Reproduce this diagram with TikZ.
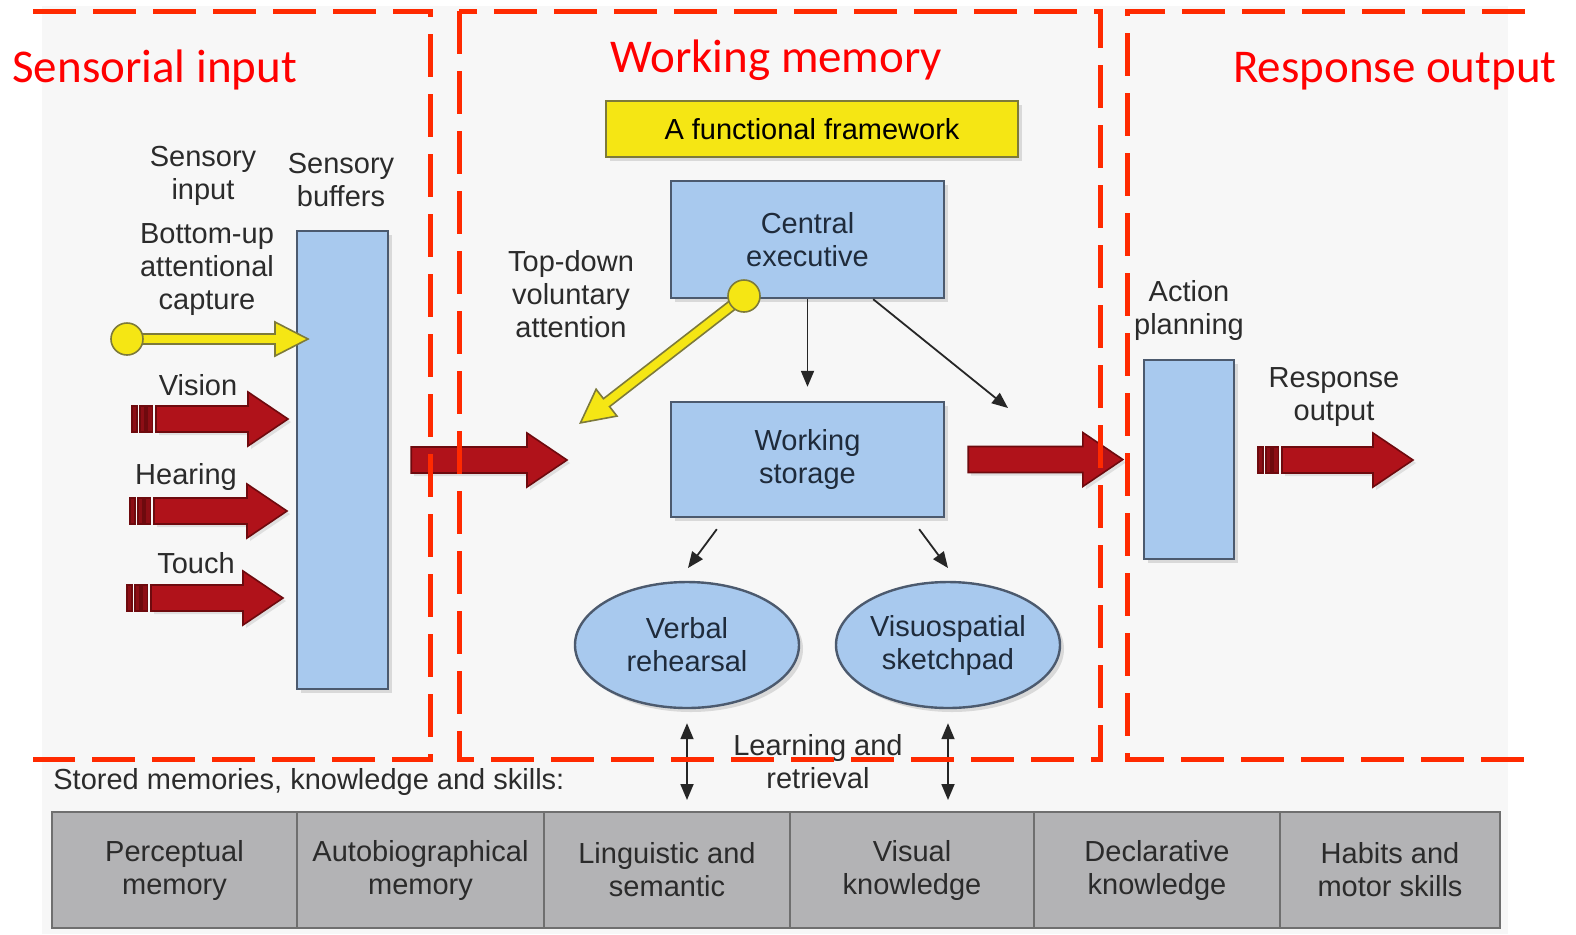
\documentclass[tikz,border=0pt]{standalone}
\usepackage{fontspec}
\setmainfont{Liberation Sans}
\newfontfamily\titlefont{Carlito}
\usetikzlibrary{arrows.meta,shapes.geometric,shadows}

\definecolor{dashred}{HTML}{FF2A00}
\definecolor{titlered}{HTML}{FF0000}
\definecolor{boxblue}{HTML}{A8C9EE}
\definecolor{boxline}{HTML}{4C5A6E}
\definecolor{fwyellow}{HTML}{F5E614}
\definecolor{fwline}{HTML}{7D7A3A}
\definecolor{arrred}{HTML}{B0121A}
\definecolor{arrdark}{HTML}{6E0A0E}
\definecolor{cellgray}{HTML}{B3B3B5}
\definecolor{cellline}{HTML}{6F6F6F}
\definecolor{panel}{HTML}{F7F7F7}
\definecolor{inktext}{HTML}{2B2B2B}
\definecolor{boxtext}{HTML}{1F2B3B}

\tikzset{
  txt/.style={font=\fontsize{14.5}{16.5}\selectfont, text=inktext, align=center, inner sep=0pt},
  bluebox/.style={txt, text=boxtext, draw=boxline, line width=1.2pt, fill=boxblue,
    drop shadow={shadow xshift=2pt, shadow yshift=-2pt, opacity=0.25}},
  blueell/.style={bluebox, ellipse, minimum width=112pt, minimum height=63pt},
  fwbox/.style={txt, text=black, draw=fwline, line width=1.2pt, fill=fwyellow,
    drop shadow={shadow xshift=2pt, shadow yshift=-2pt, opacity=0.25}},
  cell/.style={txt, draw=cellline, fill=cellgray, line width=1pt, minimum height=58pt},
  thinarrow/.style={draw=black!85, line width=0.9pt, -{Triangle[length=8pt,width=6.5pt]}},
  dblarrow/.style={draw=black!85, line width=0.9pt, {Triangle[length=8pt,width=6.5pt]}-{Triangle[length=8pt,width=6.5pt]}},
  fatarr/.style={fill=arrred, draw=arrdark, line width=0.8pt,
    drop shadow={shadow xshift=1.5pt, shadow yshift=-1.5pt, opacity=0.2}},
  barpart/.style={fill=arrred!80!black, draw=arrdark, line width=0.6pt},
  yarr/.style={fill=fwyellow, draw=fwline, line width=0.8pt},
  ydot/.style={circle, yarr, minimum size=16pt, inner sep=0pt},
  redbox/.style={draw=dashred, line width=2.5pt, dash pattern=on 21.5pt off 8.5pt},
  title/.style={font=\titlefont\fontsize{23.5}{28}\selectfont, text=titlered, inner sep=0pt}
}

% fat red arrow between two points on one level
\newcommand{\fatarrow}[2]{%
  \filldraw[fatarr] ([yshift=6.5pt]#1) -- ([xshift=-20pt,yshift=6.5pt]#2) -- ([xshift=-20pt,yshift=13.5pt]#2)
    -- (#2) -- ([xshift=-20pt,yshift=-13.5pt]#2) -- ([xshift=-20pt,yshift=-6.5pt]#2) -- ([yshift=-6.5pt]#1) -- cycle;}
% the bars in front of an input arrow
\newcommand{\stripes}[1]{%
  \filldraw[barpart] ([xshift=-12pt,yshift=-6.5pt]#1) rectangle ([xshift=-9.5pt,yshift=6.5pt]#1);
  \filldraw[barpart] ([xshift=-8pt,yshift=-6.5pt]#1) rectangle ([xshift=-5.5pt,yshift=6.5pt]#1);
  \filldraw[barpart] ([xshift=-4.5pt,yshift=-6.5pt]#1) rectangle ([xshift=-1.8pt,yshift=6.5pt]#1);}
% yellow attention arrow: start, angle, length
\newcommand{\yellowarrow}[4]{%
  \begin{scope}[shift={(#1)},rotate=#2]
    \filldraw[yarr] (10,-5) -- ({#3-33},-5) -- ({#3-33},-17) -- (#3,0) -- ({#3-33},17) -- ({#3-33},5) -- (10,5) -- cycle;
  \end{scope}
  \node[ydot] (#4) at (#1) {};}

\begin{document}
\begin{tikzpicture}[x=0.5pt,y=-0.5pt]
\useasboundingbox (0,0) rectangle (1576,934);
\fill[panel] (42,6) rectangle (1508,934);

% sensory side
\node[txt] (sensin) at (203,176) {Sensory\\input};
\node[txt] (sensbuf) at (341,180) {Sensory\\buffers};
\node[txt] (bottomup) at (207,270) {Bottom-up\\attentional\\capture};
\node[bluebox, minimum width=45.5pt, minimum height=229pt] (buffers) at (342.5,460) {};
\coordinate (bucap) at (127,339);
\yellowarrow{bucap}{0}{181}{budot}
\node[txt] (vision) at (198,385) {Vision};
\coordinate (vis0) at (156,419);
\coordinate (vis1) at (288,419);
\stripes{vis0}
\fatarrow{vis0}{vis1}
\node[txt] (hearing) at (186,477) {Hearing};
\coordinate (hear0) at (154,511);
\coordinate (hear1) at (287,511);
\stripes{hear0}
\fatarrow{hear0}{hear1}
\node[txt] (touch) at (196,563) {Touch};
\coordinate (touch0) at (151,598);
\coordinate (touch1) at (283,598);
\stripes{touch0}
\fatarrow{touch0}{touch1}
\coordinate (bufout) at ([xshift=11pt]buffers.east);
\coordinate (wmin) at (567,460);
\fatarrow{bufout}{wmin}

% working memory
\node[fwbox, minimum width=206pt, minimum height=28pt] (frame) at (812,129) {A functional framework};
\node[bluebox, minimum width=136.5pt, minimum height=58.5pt] (centexec) at (807.5,239.5) {Central\\executive};
\node[bluebox, minimum width=136.5pt, minimum height=57.5pt] (wstore) at (807.5,459.5) {Working\\storage};
\node[blueell] (verbal) at (687,645) {Verbal\\rehearsal};
\node[blueell] (visuo) at (948,645) {Visuospatial\\sketchpad};
\node[txt] (topdown) at (571,294) {Top-down\\voluntary\\attention};
\coordinate (cecap) at (744,296);
\yellowarrow{cecap}{217.8}{207}{cedot}
\coordinate (ceright) at (1008,408);
\draw[thinarrow, shorten >=7pt] (centexec.south) -- (wstore.north);
\draw[thinarrow] ([xshift=-36pt]centexec.south east) -- (ceright);
\coordinate (vrtop) at (688,568);
\coordinate (vstop) at (948,568);
\draw[thinarrow] ([xshift=23.5pt,yshift=-5.5pt]wstore.south west) -- (vrtop);
\draw[thinarrow] ([xshift=-13pt,yshift=-5.5pt]wstore.south east) -- (vstop);
\coordinate (vrdown) at (687,800);
\coordinate (vsdown) at (948,800);
\draw[dblarrow, shorten <=7pt] (verbal.south) -- (vrdown);
\draw[dblarrow, shorten <=7pt] (visuo.south) -- (vsdown);
\node[txt] (learning) at (818,762) {Learning and\\retrieval};

% response side
\node[txt] (actlabel) at (1189,310) {Action\\planning};
\node[bluebox, minimum width=45pt, minimum height=99.5pt] (action) at (1189,459.5) {};
\coordinate (wsout) at ([xshift=11.5pt]wstore.east);
\coordinate (apin) at ([xshift=-10pt]action.west);
\fatarrow{wsout}{apin}
\node[txt] (resplabel) at (1334,397) {Response\\output};
\coordinate (resp0) at (1282,460);
\coordinate (resp1) at (1413,460);
\stripes{resp0}
\fatarrow{resp0}{resp1}

% stored memories
\node[txt, anchor=west] (stored) at (53,782) {Stored memories, knowledge and skills:};
\node[cell, minimum width=122.5pt] (perc) at (174.5,870) {Perceptual\\memory};
\node[cell, minimum width=123.5pt] (auto) at (420.5,870) {Autobiographical\\memory};
\node[cell, minimum width=123pt] (ling) at (667,870) {Linguistic and\\semantic};
\node[cell, minimum width=122pt] (visk) at (912,870) {Visual\\knowledge};
\node[cell, minimum width=123pt] (decl) at (1157,870) {Declarative\\knowledge};
\node[cell, minimum width=110pt] (habit) at (1390,870) {Habits and\\motor skills};

% red frames
\draw[redbox] (33,11) -- (430,11) -- (430,759) -- (33,759);
\draw[redbox] (459,11) rectangle (1100,759);
\draw[redbox] (1525,11) -- (1127,11) -- (1127,759) -- (1525,759);
\node[title, anchor=base west] (sitit) at (12,82) {Sensorial input};
\node[title, anchor=base west] (wmtit) at (610,72) {Working memory};
\node[title, anchor=base east] (rotit) at (1557,82) {Response output};
\end{tikzpicture}
\end{document}
